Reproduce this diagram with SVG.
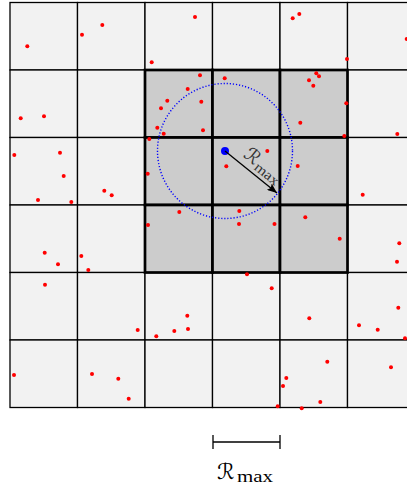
<svg xmlns="http://www.w3.org/2000/svg" width="407" height="493" viewBox="0 0 407 493">
<defs>
<style>
.cell{fill:#f2f2f2;stroke:#000;stroke-width:1.3}
.blk{fill:#cccccc;stroke:#000;stroke-width:2.7}
.pt{fill:#ff0000}
.cal{font-family:"DejaVu Serif","DejaVu Sans","Noto Sans",serif;font-style:italic}
.rm{font-family:"Liberation Serif","DejaVu Serif",serif}
</style>
<marker id="ah" viewBox="0 0 10 8" refX="10" refY="4" markerWidth="10" markerHeight="8" markerUnits="userSpaceOnUse" orient="auto">
<path d="M0,0 L10,4 L0,8 L2,4 Z" fill="#000"/>
</marker>
</defs>
<rect width="407" height="493" fill="#fff"/>
<g id="grid">
<rect class="cell" x="10" y="2.5" width="67.5" height="67.5"/><rect class="cell" x="77.5" y="2.5" width="67.5" height="67.5"/><rect class="cell" x="145" y="2.5" width="67.5" height="67.5"/><rect class="cell" x="212.5" y="2.5" width="67.5" height="67.5"/><rect class="cell" x="280" y="2.5" width="67.5" height="67.5"/><rect class="cell" x="347.5" y="2.5" width="67.5" height="67.5"/>
<rect class="cell" x="10" y="70" width="67.5" height="67.5"/><rect class="cell" x="77.5" y="70" width="67.5" height="67.5"/><rect class="cell" x="347.5" y="70" width="67.5" height="67.5"/>
<rect class="cell" x="10" y="137.5" width="67.5" height="67.5"/><rect class="cell" x="77.5" y="137.5" width="67.5" height="67.5"/><rect class="cell" x="347.5" y="137.5" width="67.5" height="67.5"/>
<rect class="cell" x="10" y="205" width="67.5" height="67.5"/><rect class="cell" x="77.5" y="205" width="67.5" height="67.5"/><rect class="cell" x="347.5" y="205" width="67.5" height="67.5"/>
<rect class="cell" x="10" y="272.5" width="67.5" height="67.5"/><rect class="cell" x="77.5" y="272.5" width="67.5" height="67.5"/><rect class="cell" x="145" y="272.5" width="67.5" height="67.5"/><rect class="cell" x="212.5" y="272.5" width="67.5" height="67.5"/><rect class="cell" x="280" y="272.5" width="67.5" height="67.5"/><rect class="cell" x="347.5" y="272.5" width="67.5" height="67.5"/>
<rect class="cell" x="10" y="340" width="67.5" height="67.5"/><rect class="cell" x="77.5" y="340" width="67.5" height="67.5"/><rect class="cell" x="145" y="340" width="67.5" height="67.5"/><rect class="cell" x="212.5" y="340" width="67.5" height="67.5"/><rect class="cell" x="280" y="340" width="67.5" height="67.5"/><rect class="cell" x="347.5" y="340" width="67.5" height="67.5"/>
</g>
<g id="block">
<rect class="blk" x="145" y="70" width="67.5" height="67.5"/><rect class="blk" x="212.5" y="70" width="67.5" height="67.5"/><rect class="blk" x="280" y="70" width="67.5" height="67.5"/>
<rect class="blk" x="145" y="137.5" width="67.5" height="67.5"/><rect class="blk" x="212.5" y="137.5" width="67.5" height="67.5"/><rect class="blk" x="280" y="137.5" width="67.5" height="67.5"/>
<rect class="blk" x="145" y="205" width="67.5" height="67.5"/><rect class="blk" x="212.5" y="205" width="67.5" height="67.5"/><rect class="blk" x="280" y="205" width="67.5" height="67.5"/>
</g>
<g id="points">
<circle class="pt" cx="27.3" cy="46.3" r="2"/><circle class="pt" cx="82" cy="34.7" r="2"/><circle class="pt" cx="102.3" cy="25" r="2"/><circle class="pt" cx="195" cy="17" r="2"/><circle class="pt" cx="292.7" cy="18.3" r="2"/><circle class="pt" cx="299.3" cy="14" r="2"/><circle class="pt" cx="347" cy="59" r="2"/><circle class="pt" cx="406.7" cy="39" r="2"/><circle class="pt" cx="151.7" cy="62.3" r="2"/>
<circle class="pt" cx="20.7" cy="118.3" r="2"/><circle class="pt" cx="44" cy="116.3" r="2"/><circle class="pt" cx="200" cy="75.3" r="2"/><circle class="pt" cx="224.7" cy="78.3" r="2"/><circle class="pt" cx="187.7" cy="89" r="2"/><circle class="pt" cx="167.3" cy="100.7" r="2"/><circle class="pt" cx="161" cy="108.3" r="2"/><circle class="pt" cx="201.3" cy="101.7" r="2"/><circle class="pt" cx="157.3" cy="127.7" r="2"/><circle class="pt" cx="163.7" cy="133.7" r="2"/><circle class="pt" cx="203" cy="130.3" r="2"/><circle class="pt" cx="149.3" cy="139" r="2"/><circle class="pt" cx="316.3" cy="73.3" r="2"/><circle class="pt" cx="319" cy="76.3" r="2"/><circle class="pt" cx="309" cy="80.3" r="2"/><circle class="pt" cx="313.3" cy="85.7" r="2"/><circle class="pt" cx="346.3" cy="103.3" r="2"/><circle class="pt" cx="300.3" cy="122.7" r="2"/><circle class="pt" cx="344.3" cy="136" r="2"/><circle class="pt" cx="397.3" cy="134" r="2"/>
<circle class="pt" cx="147.7" cy="173.7" r="2"/><circle class="pt" cx="226.3" cy="166.3" r="2"/><circle class="pt" cx="267.3" cy="151" r="2"/><circle class="pt" cx="14.3" cy="155" r="2"/><circle class="pt" cx="60" cy="152.7" r="2"/><circle class="pt" cx="63.7" cy="176" r="2"/><circle class="pt" cx="38" cy="200" r="2"/><circle class="pt" cx="71.3" cy="202" r="2"/><circle class="pt" cx="104.3" cy="190.7" r="2"/><circle class="pt" cx="111.7" cy="195.3" r="2"/><circle class="pt" cx="297.7" cy="166" r="2"/><circle class="pt" cx="362.7" cy="194.7" r="2"/>
<circle class="pt" cx="179.3" cy="212" r="2"/><circle class="pt" cx="148" cy="225" r="2"/><circle class="pt" cx="239.3" cy="211" r="2"/><circle class="pt" cx="239" cy="224" r="2"/><circle class="pt" cx="274.5" cy="224" r="2"/><circle class="pt" cx="305.3" cy="217.3" r="2"/><circle class="pt" cx="339.7" cy="238.7" r="2"/><circle class="pt" cx="399.3" cy="243.3" r="2"/><circle class="pt" cx="397" cy="261.7" r="2"/><circle class="pt" cx="44.7" cy="252.7" r="2"/><circle class="pt" cx="58" cy="264.3" r="2"/><circle class="pt" cx="81.3" cy="256" r="2"/><circle class="pt" cx="88.3" cy="270" r="2"/>
<circle class="pt" cx="247" cy="274.3" r="2"/><circle class="pt" cx="271.7" cy="288.3" r="2"/><circle class="pt" cx="45" cy="284.7" r="2"/><circle class="pt" cx="137.7" cy="330" r="2"/><circle class="pt" cx="156.3" cy="336.3" r="2"/><circle class="pt" cx="174.3" cy="331" r="2"/><circle class="pt" cx="187.3" cy="315.7" r="2"/><circle class="pt" cx="188" cy="329" r="2"/><circle class="pt" cx="309.3" cy="318.3" r="2"/><circle class="pt" cx="398.3" cy="307.7" r="2"/><circle class="pt" cx="359" cy="325.3" r="2"/><circle class="pt" cx="377.7" cy="329.7" r="2"/><circle class="pt" cx="405" cy="338.3" r="2"/>
<circle class="pt" cx="14" cy="375" r="2"/><circle class="pt" cx="92" cy="374" r="2"/><circle class="pt" cx="118.3" cy="378.7" r="2"/><circle class="pt" cx="128.7" cy="398.7" r="2"/><circle class="pt" cx="327.3" cy="361.7" r="2"/><circle class="pt" cx="391" cy="367.3" r="2"/><circle class="pt" cx="286.3" cy="378" r="2"/><circle class="pt" cx="283" cy="386" r="2"/><circle class="pt" cx="320.3" cy="402" r="2"/><circle class="pt" cx="277.7" cy="406.3" r="2"/><circle class="pt" cx="301.7" cy="408.3" r="2"/>
</g>
<g id="range">
<circle cx="225" cy="151" r="67.5" fill="none" stroke="#0000ff" stroke-width="1.4" stroke-dasharray="1.2 1.9"/>
<circle cx="225" cy="151" r="4" fill="#0000ff"/>
</g>
<g id="connectors">
<line x1="225" y1="151" x2="277" y2="193" stroke="#000" stroke-width="1.3" marker-end="url(#ah)"/>
</g>
<g id="radius-label" transform="translate(225,151) rotate(39)">
<text fill="#333"><tspan class="cal" font-size="19" x="17" y="-7">ℛ</tspan><tspan class="rm" font-size="14" x="33" y="-4" textLength="28" lengthAdjust="spacingAndGlyphs">max</tspan></text>
</g>
<g id="scale">
<line x1="213" y1="442" x2="280" y2="442" stroke="#000" stroke-width="1.3"/>
<line x1="213" y1="435" x2="213" y2="449" stroke="#000" stroke-width="1.3"/>
<line x1="280" y1="435" x2="280" y2="449" stroke="#000" stroke-width="1.3"/>
<text fill="#000"><tspan class="cal" font-size="22" x="217" y="479">ℛ</tspan><tspan class="rm" font-size="17" x="237" y="482" textLength="36" lengthAdjust="spacingAndGlyphs">max</tspan></text>
</g>
</svg>
